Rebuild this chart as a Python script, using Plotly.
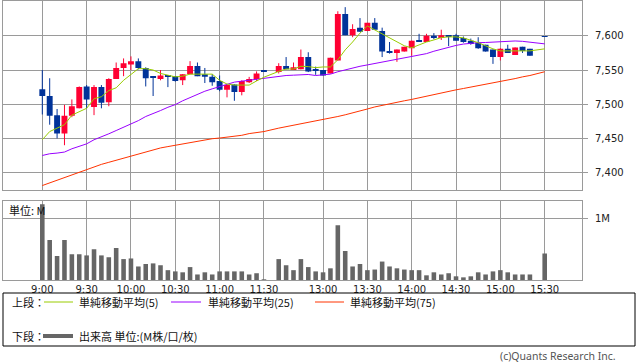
import plotly.graph_objects as go


def build_times():
    t = []
    for m in range(9 * 60, 11 * 60 + 31, 5):
        t.append(f"{m // 60}:{m % 60:02d}")
    t.append(None)  # lunch break slot
    for m in range(12 * 60 + 30, 15 * 60 + 21, 5):
        t.append(f"{m // 60}:{m % 60:02d}")
    t.append(None)  # pre-close slot
    t.append("15:30")
    return t


times = build_times()

opens = [7522, 7512, 7484, 7457, 7483, 7494, 7526, 7496, 7525, 7503,
         7537, 7553, 7558, 7563, 7553, 7540, 7537, 7541, 7541, 7535,
         7544, 7556, 7544, 7540, 7534, 7521, 7529, 7518, 7532, 7537,
         7548, None, 7547, 7556, 7550, 7551, 7569, 7551, 7550, 7545,
         7564, 7632, 7601, 7612, 7607, 7619, 7607, 7578, 7575, 7577,
         7582, 7593, 7591, 7600, 7597, 7600, 7601, 7597, 7593, 7590,
         7587, 7580, 7569, 7581, 7572, 7584, 7581, None, 7599]
highs = [7550, 7538, 7493, 7499, 7507, 7526, 7528, 7528, 7528, 7538,
         7561, 7567, 7570, 7567, 7554, 7540, 7550, 7541, 7541, 7544,
         7563, 7561, 7553, 7544, 7542, 7528, 7529, 7535, 7540, 7548,
         7548, None, 7560, 7569, 7561, 7580, 7576, 7555, 7550, 7568,
         7636, 7642, 7617, 7626, 7619, 7626, 7612, 7591, 7580, 7584,
         7593, 7603, 7603, 7604, 7609, 7600, 7603, 7599, 7596, 7598,
         7587, 7580, 7582, 7587, 7583, 7584, 7581, None, 7599]
lows = [7485, 7470, 7450, 7440, 7481, 7494, 7494, 7484, 7494, 7497,
        7537, 7541, 7550, 7551, 7526, 7512, 7535, 7525, 7533, 7528,
        7544, 7541, 7531, 7527, 7519, 7510, 7505, 7513, 7531, 7534,
        7548, None, 7545, 7551, 7550, 7551, 7547, 7543, 7542, 7545,
        7564, 7601, 7598, 7606, 7607, 7609, 7569, 7574, 7562, 7577,
        7571, 7592, 7591, 7595, 7594, 7585, 7593, 7590, 7587, 7581,
        7577, 7559, 7564, 7575, 7572, 7575, 7571, None, 7599]
closes = [7512, 7483, 7457, 7483, 7497, 7525, 7507, 7525, 7502, 7537,
          7553, 7560, 7563, 7553, 7538, 7539.5, 7542, 7540, 7534, 7544,
          7556, 7541, 7540, 7532, 7521, 7528, 7518, 7534, 7537, 7545,
          7547.5, None, 7556, 7551, 7554, 7569, 7548, 7550, 7542, 7568,
          7632, 7601, 7610, 7606, 7619, 7609, 7577, 7576, 7580, 7584,
          7593, 7592, 7600, 7597, 7601, 7599.5, 7593, 7591, 7588, 7582,
          7577, 7569, 7581, 7575, 7583, 7578, 7571, None, 7598.5]

volume_m = [1.23, 0.65, 0.39, 0.65, 0.42, 0.42, 0.40, 0.50, 0.40, 0.37,
            0.52, 0.34, 0.35, 0.22, 0.26, 0.27, 0.24, 0.16, 0.14, 0.125,
            0.21, 0.09, 0.125, 0.09, 0.14, 0.14, 0.14, 0.14, 0.09, 0.11,
            0.01, None, 0.34, 0.24, 0.16, 0.34, 0.21, 0.14, 0.125, 0.19,
            0.89, 0.47, 0.22, 0.26, 0.16, 0.17, 0.30, 0.22, 0.19, 0.17,
            0.16, 0.16, 0.076, 0.125, 0.09, 0.11, 0.06, 0.043, 0.06, 0.125,
            0.09, 0.14, 0.16, 0.125, 0.09, 0.09, 0.09, None, 0.43]

ma5 = [7448, 7460, 7465, 7470, 7484, 7489, 7494, 7508, 7511, 7520,
       7524, 7535, 7543, 7552, 7552, 7550, 7545, 7542, 7540, 7541,
       7544, 7544, 7544, 7544, 7535, 7529.5, 7528, 7528, 7528, 7534,
       7539.5, None, 7548, 7551.5, 7551.5, 7555.5, 7555, 7553.5, 7554.5, 7554.5,
       7565, 7579.5, 7591, 7604, 7614.5, 7608.5, 7603, 7597, 7591, 7585.5,
       7582.5, 7587, 7591, 7594, 7597.5, 7598.5, 7598.5, 7597, 7594, 7590,
       7585.5, 7581, 7578, 7578, 7578, 7578, 7578, None, 7581]
ma25 = [7425, 7427.5, 7428.5, 7430, 7434.8, 7438.6, 7442, 7448, 7452, 7456.7,
        7461.5, 7466.3, 7471.3, 7476, 7482, 7486, 7490.7, 7495.5, 7499.4, 7505,
        7510, 7515, 7519, 7522.5, 7525.5, 7529, 7532.3, 7533.7, 7535.2, 7536.7,
        7538.6, None, 7541, 7542, 7542.5, 7543, 7543.5, 7542, 7543, 7544,
        7547.5, 7550.5, 7553, 7555.5, 7557.5, 7559.5, 7561.5, 7564, 7566, 7568,
        7569.5, 7571.5, 7574, 7577.5, 7580.5, 7583.5, 7586, 7588, 7589.5, 7590,
        7590.3, 7590.8, 7591.2, 7592.5, 7592.5, 7592, 7590.5, None, 7588.3]
ma75 = [7381, 7385, 7388, 7392, 7397, 7401, 7405, 7409, 7412, 7415,
        7418, 7422, 7425, 7428, 7431, 7434, 7436, 7438, 7440, 7441.5,
        7443.5, 7446, 7448, 7449.5, 7450.5, 7451.5, 7452.5, 7454.5, 7457, 7458.5,
        7460, None, 7465, 7467, 7469.5, 7471.5, 7473.5, 7476, 7478, 7480,
        7482, 7484.5, 7487, 7490, 7493, 7496, 7498.5, 7500.5, 7503, 7505,
        7507, 7509.5, 7511.5, 7514, 7516.5, 7518.5, 7521, 7523, 7525, 7526.5,
        7528.5, 7531, 7533, 7535, 7537.5, 7540, 7542, None, 7547.5]

tick_labels = ["9:00", "9:30", "10:00", "10:30", "11:00", "11:30",
               "13:00", "13:30", "14:00", "14:30", "15:00", "15:30"]
price_ticks = [7400, 7450, 7500, 7550, 7600]
price_tick_labels = ["7,400", "7,450", "7,500", "7,550", "7,600"]
vol_ticks = [1]
vol_tick_labels = ["1M"]

# ---------------- styles ----------------
UP = "#ff0033"
DOWN = "#003399"
GRID = "#9a9a9a"
TXT = "#222222"
JP = "Noto Sans CJK JP"

slots = list(range(len(times)))
tick_pos = [times.index(t) for t in tick_labels]

fig = go.Figure()

# candle bodies and wicks
for is_up, color in ((True, UP), (False, DOWN)):
    bx, bbase, bh, wx, wy = [], [], [], [], []
    for i in slots:
        o, h, l, c = opens[i], highs[i], lows[i], closes[i]
        if o is None:
            continue
        if (c > o) != is_up:
            continue
        bx.append(i)
        bbase.append(min(o, c))
        bh.append(max(abs(c - o), 1.3))
        wx += [i, i, None]
        wy += [l, h, None]
    fig.add_trace(go.Bar(x=bx, y=bh, base=bbase, width=0.8,
                         marker=dict(color=color, line=dict(width=0)),
                         xaxis="x", yaxis="y", hoverinfo="skip"))
    fig.add_trace(go.Scatter(x=wx, y=wy, mode="lines",
                             line=dict(color=color, width=1),
                             xaxis="x", yaxis="y", hoverinfo="skip"))

# moving averages
for vals, color in ((ma75, "#ff3300"), (ma25, "#9900ff"), (ma5, "#99cc00")):
    fig.add_trace(go.Scatter(x=slots, y=vals, mode="lines", connectgaps=True,
                             line=dict(color=color, width=1),
                             xaxis="x", yaxis="y", hoverinfo="skip"))

# volume
fig.add_trace(go.Bar(x=slots, y=volume_m, width=0.62,
                     marker=dict(color="#666666", line=dict(width=0)),
                     xaxis="x2", yaxis="y2", hoverinfo="skip"))

XR = [-5.32, 73.05]
axis_common = dict(showgrid=True, gridcolor=GRID, gridwidth=1, zeroline=False,
                   showline=True, linecolor=GRID, linewidth=1, mirror=True)

fig.update_layout(
    width=638, height=362,
    margin=dict(l=3, r=56, t=1, b=82),
    paper_bgcolor="white", plot_bgcolor="white",
    showlegend=False, barmode="overlay",
    font=dict(family="DejaVu Sans", size=10, color=TXT),
    xaxis=dict(domain=[0, 1], range=XR, anchor="y", tickvals=tick_pos,
               showticklabels=False, ticks="", **axis_common),
    xaxis2=dict(domain=[0, 1], range=XR, anchor="y2", matches="x",
                tickvals=tick_pos, ticktext=tick_labels, ticks="",
                tickfont=dict(family="DejaVu Sans", size=10, color=TXT),
                **axis_common),
    yaxis=dict(domain=[0.3214, 1], range=[7374, 7651], side="right",
               tickvals=price_ticks, ticktext=price_tick_labels,
               ticks="outside", ticklen=5, tickcolor=GRID,
               ticklabelstandoff=5,
               tickfont=dict(family="DejaVu Sans", size=10, color=TXT),
               anchor="x", **axis_common),
    yaxis2=dict(domain=[0, 0.2821], range=[0, 1.28], side="right",
                tickvals=vol_ticks, ticktext=vol_tick_labels,
                ticks="outside", ticklen=5, tickcolor=GRID,
                ticklabelstandoff=5,
                tickfont=dict(family="DejaVu Sans", size=10, color=TXT),
                anchor="x2", **axis_common),
)

PLOT_H = 279.0


def px_x(p):
    return (p - 3) / 579.0


def px_y(p):
    return (280 - p) / PLOT_H


shapes = [
    dict(type="rect", xref="paper", yref="paper",
         x0=px_x(3), x1=px_x(635), y0=px_y(346), y1=px_y(293),
         line=dict(color="black", width=1), fillcolor="rgba(0,0,0,0)"),
    dict(type="line", xref="paper", yref="paper", x0=px_x(44), x1=px_x(73),
         y0=px_y(302), y1=px_y(302), line=dict(color="#99cc00", width=1)),
    dict(type="line", xref="paper", yref="paper", x0=px_x(171), x1=px_x(201),
         y0=px_y(302), y1=px_y(302), line=dict(color="#9900ff", width=1)),
    dict(type="line", xref="paper", yref="paper", x0=px_x(315), x1=px_x(344),
         y0=px_y(302), y1=px_y(302), line=dict(color="#ff3300", width=1)),
    dict(type="line", xref="paper", yref="paper", x0=px_x(43), x1=px_x(73),
         y0=px_y(336), y1=px_y(336), line=dict(color="#666666", width=4)),
]
fig.update_layout(shapes=shapes)

anns = [
    ("上段：", 10, 302, "left"),
    ("単純移動平均(5)", 77, 302, "left"),
    ("単純移動平均(25)", 206, 302, "left"),
    ("単純移動平均(75)", 348, 302, "left"),
    ("下段：", 10, 336, "left"),
    ("出来高 単位:(M株/口/枚)", 77, 336, "left"),
    ("単位: M", 7, 210, "left"),
]
for text, x, y, anchor in anns:
    fig.add_annotation(text=text, xref="paper", yref="paper", x=px_x(x), y=px_y(y),
                       xanchor=anchor, yanchor="middle", showarrow=False,
                       font=dict(family=JP, size=11, color="#111111"))
fig.add_annotation(text="(c)Quants Research Inc.", xref="paper", yref="paper",
                   x=px_x(618), y=px_y(356), xanchor="right", yanchor="middle",
                   showarrow=False,
                   font=dict(family="Noto Sans", size=10.5, color="#555555"))

fig.write_html("out.html",
               config={"displayModeBar": False},
               post_script="document.body.style.margin='0';"
                           "document.body.style.padding='0';")
